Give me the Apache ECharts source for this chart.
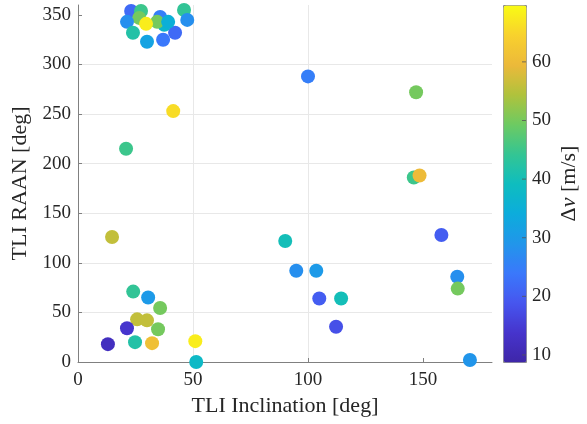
<!DOCTYPE html>
<html><head><meta charset="utf-8">
<script src="https://cdn.jsdelivr.net/npm/echarts@6/dist/echarts.min.js"></script>
<style>html,body{margin:0;padding:0;background:#fff}#c{width:587px;height:424px}</style>
</head><body><div id="c"></div>
<script>
// TLI inclination [deg]
const inclination = [23.1, 27.4, 26.6, 21.3, 23.9, 37.0, 42.2, 35.7, 37.5, 34.4, 39.2, 46.1, 47.5, 30.0, 29.6,
  41.4, 20.9, 14.8,
  24.0, 30.5, 35.7, 25.7, 30.0, 21.3, 34.8, 13.0, 24.8, 32.2, 51.0, 51.4,
  100.0, 147.0, 146.0, 148.5, 90.1, 158.0, 94.9, 103.6, 164.9, 165.1, 104.9, 114.4, 112.2, 170.4];
// TLI RAAN [deg]
const raan = [354, 354, 347, 343, 332, 325, 332, 348, 340, 343, 343, 355, 345, 323, 341,
  253, 215, 126,
  71, 65, 54.5, 43, 42, 34, 33, 18, 20, 19, 21, 0,
  288, 272, 186, 188, 122, 128, 92, 92, 86, 74, 64, 64, 35.6, 2];
// delta-v [m/s]
const dv = [22, 45, 50, 28, 42, 24, 22, 25, 37, 50, 35, 44, 28, 32, 68,
  66, 45, 56,
  44, 30, 50, 56, 56, 14, 50, 12, 42, 61, 68, 38,
  25, 50, 45, 60, 40, 20, 28, 30, 28, 50, 20, 40, 18, 29];
const xTicks = [0, 50, 100, 150];
const yTicks = [0, 50, 100, 150, 200, 250, 300, 350];
const cbTicks = [10, 20, 30, 40, 50, 60];
const cbMin = 8.8, cbMax = 69.7;
const parula = ['#3e26a8','#4634cc','#4656ef','#3a78fb','#2196ea','#0cacdc','#0ebdbf','#34c593','#6dca62','#b0c23c','#ecb93a','#f8d12d','#f9fb14'];

const font = '"Liberation Serif", "DejaVu Serif", serif';
const data = inclination.map((x, i) => [x, raan[i], dv[i]]);
const cbTickData = cbTicks.map(v => [1, v]);
const chart = echarts.init(document.getElementById('c'));
chart.setOption({
  animation: false,
  textStyle: {fontFamily: font},
  grid: [
    {left: 78, right: 95, top: 5, bottom: 62, outerBoundsMode: 'none', containLabel: false},
    {left: 503, right: 61, top: 5, bottom: 62, outerBoundsMode: 'none', containLabel: false}
  ],
  xAxis: [
    {gridIndex: 0, type: 'value', min: 0, max: 180, interval: 50,
     name: 'TLI Inclination [deg]', nameLocation: 'middle', nameGap: 33,
     nameTextStyle: {fontFamily: font, fontSize: 22, color: '#262626'},
     axisLine: {show: true, onZero: false, lineStyle: {color: '#808080', width: 1}},
     axisTick: {show: true, inside: true, length: 4, customValues: xTicks, lineStyle: {color: '#808080'}},
     axisLabel: {fontFamily: font, fontSize: 19, color: '#262626', margin: 9, customValues: xTicks},
     splitLine: {show: true, showMaxLine: false, showMinLine: false, lineStyle: {color: '#e8e8e8', width: 1}}},
    {gridIndex: 1, type: 'value', min: 0, max: 1, show: false}
  ],
  yAxis: [
    {gridIndex: 0, type: 'value', min: 0, max: 360, interval: 50,
     name: 'TLI RAAN [deg]', nameLocation: 'middle', nameGap: 42,
     nameTextStyle: {fontFamily: font, fontSize: 22, color: '#262626'},
     axisLine: {show: true, onZero: false, lineStyle: {color: '#808080', width: 1}},
     axisTick: {show: true, inside: true, length: 4, customValues: yTicks, lineStyle: {color: '#808080'}},
     axisLabel: {fontFamily: font, fontSize: 19, color: '#262626', margin: 7, customValues: yTicks},
     splitLine: {show: true, showMaxLine: false, showMinLine: false, lineStyle: {color: '#e8e8e8', width: 1}}},
    {gridIndex: 1, type: 'value', min: cbMin, max: cbMax, position: 'right', z: 20,
     name: 'Δ{i|v} [m/s]', nameLocation: 'middle', nameGap: 32, nameRotate: 90,
     nameTextStyle: {fontFamily: font, fontSize: 22, color: '#262626',
       rich: {i: {fontFamily: font, fontSize: 22, fontStyle: 'italic', color: '#262626'}}},
     axisLine: {show: false},
     axisTick: {show: false},
     axisLabel: {fontFamily: font, fontSize: 19, color: '#262626', margin: 6, customValues: cbTicks},
     splitLine: {show: false}}
  ],
  visualMap: {
    type: 'continuous', min: cbMin, max: cbMax, dimension: 2, seriesIndex: 0,
    inRange: {color: parula}, calculable: false, realtime: false,
    left: 503, top: 5, itemWidth: 23, itemHeight: 357, padding: 0, z: 4,
    borderColor: '#8c8c8c', borderWidth: 1, text: null, hoverLink: false,
    textStyle: {color: 'transparent'}
  },
  series: [{
    type: 'scatter', xAxisIndex: 0, yAxisIndex: 0, data: data,
    symbolSize: 14, itemStyle: {opacity: 1}
  }, {
    type: 'scatter', xAxisIndex: 1, yAxisIndex: 1, data: cbTickData, z: 10,
    symbol: 'rect', symbolSize: [4, 1], symbolOffset: [-2, 0],
    itemStyle: {color: '#555555'}, silent: true
  }]
});
</script></body></html>
